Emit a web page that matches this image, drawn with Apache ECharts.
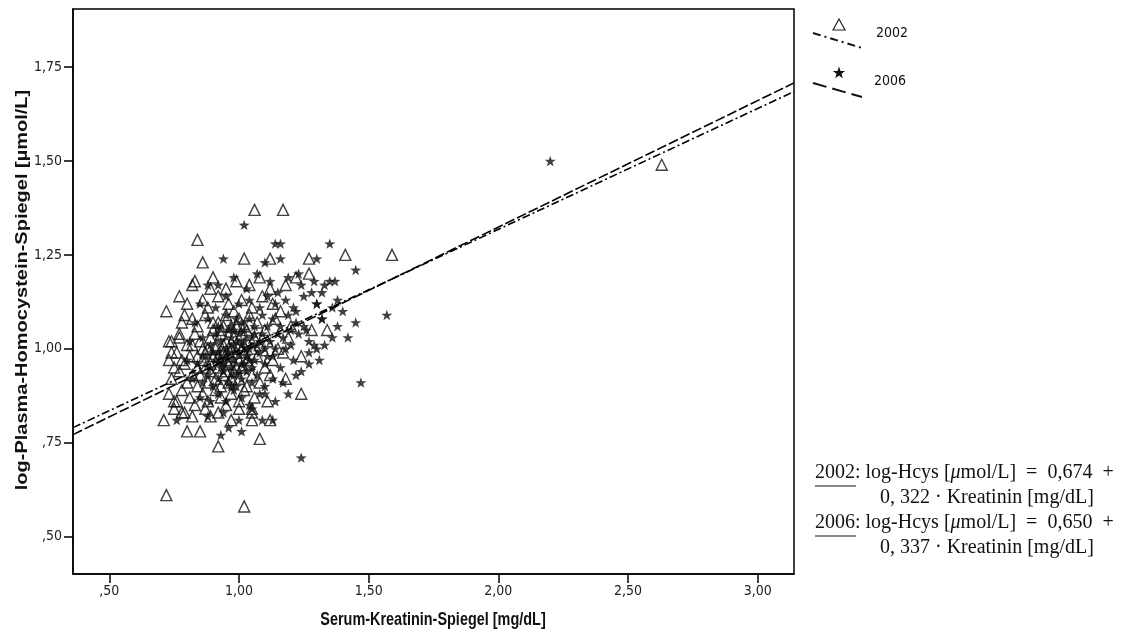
<!DOCTYPE html>
<html>
<head>
<meta charset="utf-8">
<script src="https://cdn.jsdelivr.net/npm/echarts@6/dist/echarts.min.js"></script>
<style>
  html, body { margin: 0; padding: 0; background: #fff; }
  #chart { width: 1138px; height: 639px; }
</style>
</head>
<body>
<div id="chart"></div>
<script>
// Serum creatinine vs log plasma homocysteine, 2002 (triangles) and 2006 (stars)
const years = ['2002', '2006'];
const intercepts = [0.674, 0.650];
const slopes = [0.322, 0.337];
const xTicks = [0.5, 1.0, 1.5, 2.0, 2.5, 3.0];
const yTicks = [0.5, 0.75, 1.0, 1.25, 1.5, 1.75];
const xTitle = 'Serum-Kreatinin-Spiegel [mg/dL]';
const yTitle = 'log-Plasma-Homocystein-Spiegel [µmol/L]';

const pts2002 = [
  [0.72, 0.61], [1.02, 0.58], [2.63, 1.49], [1.06, 1.37], [1.17, 1.37],
  [0.84, 1.29], [0.86, 1.23], [1.02, 1.24], [1.12, 1.24], [1.27, 1.24],
  [1.41, 1.25], [1.59, 1.25], [1.27, 1.20], [0.82, 1.17], [0.77, 1.14],
  [0.72, 1.10], [0.79, 1.09], [0.89, 1.16], [0.71, 0.81], [0.80, 0.78],
  [0.85, 0.78], [0.92, 0.74], [1.08, 0.76], [1.05, 0.84], [1.05, 0.83],
  [1.05, 0.81], [1.12, 0.81], [1.24, 0.88], [1.24, 0.98], [1.28, 1.05],
  [1.34, 1.05], [0.75, 0.84], [0.75, 0.86], [0.79, 0.83], [0.89, 0.82],
  [0.73, 1.02], [0.74, 0.99], [0.75, 0.95], [0.77, 1.04], [0.78, 0.97],
  [0.83, 1.18], [0.90, 1.19], [0.95, 1.16], [0.99, 1.18], [1.04, 1.17],
  [1.08, 1.19], [1.12, 1.16], [1.18, 1.17], [1.22, 1.19],
  [0.80, 1.12], [0.86, 1.13], [0.88, 1.11], [0.92, 1.14], [0.96, 1.12],
  [0.98, 1.10], [1.01, 1.13], [1.05, 1.11], [1.09, 1.14], [1.13, 1.12],
  [1.16, 1.10],
  [0.78, 1.07], [0.82, 1.08], [0.84, 1.06], [0.87, 1.09], [0.90, 1.07],
  [0.93, 1.05], [0.95, 1.09], [0.97, 1.06], [1.00, 1.08], [1.02, 1.06],
  [1.04, 1.09], [1.07, 1.07], [1.10, 1.05], [1.14, 1.08], [1.20, 1.06],
  [0.74, 1.02], [0.77, 1.03], [0.80, 1.01], [0.83, 1.04], [0.85, 1.02],
  [0.88, 1.00], [0.89, 1.03], [0.91, 1.01], [0.93, 1.04], [0.95, 1.02],
  [0.96, 1.00], [0.98, 1.03], [1.00, 1.01], [1.01, 1.04], [1.03, 1.02],
  [1.05, 1.00], [1.06, 1.03], [1.08, 1.01], [1.11, 1.02], [1.15, 1.00],
  [1.19, 1.03],
  [0.73, 0.97], [0.76, 0.99], [0.79, 0.96], [0.81, 0.98], [0.84, 0.95],
  [0.86, 0.97], [0.87, 0.99], [0.89, 0.96], [0.90, 0.98], [0.92, 0.95],
  [0.93, 0.97], [0.94, 0.99], [0.96, 0.96], [0.97, 0.98], [0.99, 0.95],
  [1.00, 0.97], [1.02, 0.99], [1.04, 0.96], [1.07, 0.98], [1.10, 0.95],
  [1.13, 0.97], [1.17, 0.99],
  [0.74, 0.92], [0.77, 0.94], [0.80, 0.91], [0.82, 0.93], [0.84, 0.90],
  [0.85, 0.93], [0.88, 0.91], [0.89, 0.94], [0.91, 0.92], [0.93, 0.90],
  [0.94, 0.93], [0.96, 0.91], [0.98, 0.94], [1.00, 0.92], [1.03, 0.90],
  [1.05, 0.93], [1.08, 0.91], [1.12, 0.93], [1.18, 0.92],
  [0.73, 0.88], [0.76, 0.86], [0.78, 0.89], [0.81, 0.87], [0.83, 0.85],
  [0.86, 0.88], [0.88, 0.86], [0.91, 0.89], [0.93, 0.87], [0.95, 0.85],
  [0.97, 0.88], [1.00, 0.86], [1.02, 0.89], [1.06, 0.87], [1.11, 0.86],
  [0.78, 0.83], [0.82, 0.82], [0.87, 0.84], [0.92, 0.83], [0.97, 0.81],
  [1.00, 0.84],
  [0.91, 1.00], [0.92, 0.98], [0.94, 1.01], [0.95, 0.97], [0.97, 1.00],
  [0.99, 0.99], [1.01, 1.00], [1.03, 0.97], [0.95, 0.94], [0.97, 0.92],
  [1.01, 0.95], [0.90, 1.05], [0.92, 1.07], [0.94, 1.06], [0.99, 1.06],
  [1.03, 1.05], [0.87, 0.95], [0.86, 1.00], [0.84, 0.98], [0.82, 1.01]
];

const pts2006 = [
  [2.20, 1.50], [1.02, 1.33], [0.94, 1.24], [1.10, 1.23], [1.14, 1.28],
  [1.16, 1.28], [1.16, 1.24], [1.30, 1.24], [0.88, 1.17], [1.35, 1.28],
  [1.23, 1.20], [1.35, 1.18], [1.37, 1.18], [1.45, 1.21], [1.38, 1.13],
  [1.57, 1.09], [1.45, 1.07], [1.42, 1.03], [1.36, 1.03], [1.33, 1.01],
  [1.29, 1.01], [1.47, 0.91], [1.24, 0.94], [1.24, 0.71], [0.93, 0.77],
  [0.96, 0.79], [1.01, 0.78], [1.09, 0.81], [1.13, 0.81], [1.10, 0.88],
  [0.76, 0.81], [1.30, 1.12], [1.32, 1.08], [1.25, 1.06], [1.28, 1.15],
  [1.22, 1.10], [1.40, 1.10], [1.33, 1.17], [1.20, 1.05], [1.27, 0.99],
  [1.31, 0.97],
  [0.92, 1.17], [0.98, 1.19], [1.03, 1.16], [1.07, 1.20], [1.12, 1.18],
  [1.15, 1.15], [1.19, 1.19], [1.24, 1.17], [1.29, 1.18], [1.32, 1.15],
  [0.85, 1.12], [0.91, 1.11], [0.95, 1.14], [1.00, 1.12], [1.04, 1.13],
  [1.08, 1.11], [1.11, 1.14], [1.14, 1.12], [1.18, 1.13], [1.21, 1.11],
  [1.25, 1.14], [1.30, 1.12], [1.36, 1.11],
  [0.83, 1.07], [0.88, 1.08], [0.92, 1.06], [0.95, 1.09], [0.97, 1.06],
  [0.99, 1.08], [1.02, 1.05], [1.04, 1.08], [1.06, 1.06], [1.09, 1.09],
  [1.11, 1.06], [1.13, 1.08], [1.16, 1.06], [1.19, 1.09], [1.22, 1.07],
  [1.26, 1.05], [1.32, 1.08], [1.38, 1.06],
  [0.81, 1.02], [0.86, 1.03], [0.89, 1.01], [0.91, 1.04], [0.93, 1.02],
  [0.95, 1.00], [0.97, 1.03], [0.98, 1.01], [1.00, 1.04], [1.02, 1.02],
  [1.04, 1.00], [1.05, 1.03], [1.07, 1.01], [1.09, 1.04], [1.12, 1.02],
  [1.14, 1.00], [1.17, 1.03], [1.20, 1.01], [1.23, 1.04], [1.27, 1.02],
  [1.30, 1.00],
  [0.80, 0.97], [0.84, 0.96], [0.87, 0.98], [0.89, 0.95], [0.91, 0.97],
  [0.92, 0.99], [0.94, 0.96], [0.95, 0.98], [0.97, 0.95], [0.98, 0.97],
  [1.00, 0.99], [1.01, 0.96], [1.03, 0.98], [1.05, 0.95], [1.06, 0.97],
  [1.08, 0.99], [1.10, 0.96], [1.13, 0.98], [1.16, 0.95], [1.21, 0.97],
  [1.27, 0.96],
  [0.82, 0.92], [0.86, 0.91], [0.88, 0.93], [0.90, 0.90], [0.92, 0.92],
  [0.94, 0.94], [0.96, 0.91], [0.98, 0.93], [0.99, 0.90], [1.01, 0.92],
  [1.03, 0.94], [1.05, 0.91], [1.07, 0.93], [1.10, 0.90], [1.13, 0.92],
  [1.17, 0.91], [1.22, 0.93],
  [0.85, 0.87], [0.89, 0.86], [0.92, 0.88], [0.95, 0.86], [0.98, 0.89],
  [1.01, 0.87], [1.04, 0.85], [1.08, 0.88], [1.14, 0.86], [1.19, 0.88],
  [0.88, 0.82], [0.94, 0.83], [1.00, 0.81], [1.05, 0.84],
  [0.93, 0.97], [0.96, 0.99], [0.99, 1.02], [1.01, 1.01], [1.03, 1.00],
  [0.96, 1.05], [0.98, 1.05], [1.01, 1.07], [1.06, 1.04], [1.08, 1.02],
  [0.97, 0.90], [1.00, 0.94], [1.02, 0.96], [1.04, 0.97], [0.93, 0.95],
  [0.90, 0.99], [1.10, 1.00], [1.11, 0.98], [1.15, 1.04], [1.18, 1.00]
];

const xMin = 0.36, xMax = 3.14;
const yMin = 0.40, yMax = 1.905;

const tickFont = "'DejaVu Sans Condensed', 'Liberation Sans', Arial, sans-serif";
const titleFont = "'Liberation Sans', Arial, sans-serif";
const serifFont = "'Liberation Serif', 'DejaVu Serif', serif";
const starPath = 'path://M10,0 L12.35,6.76 L19.51,6.91 L13.8,11.24 L15.88,18.09 L10,14 L4.12,18.09 L6.2,11.24 L0.49,6.91 L7.65,6.76 Z';

const fmt = v => v.toFixed(2).replace('.', ',').replace(/^0/, '');

function fitLine(i) {
  return [xMin, xMax].map(x => [x, intercepts[i] + slopes[i] * x]);
}

// small star outline for the legend
function starPoints(cx, cy, R, r) {
  const pts = [];
  for (let k = 0; k < 10; k++) {
    const a = -Math.PI / 2 + k * Math.PI / 5;
    const rad = k % 2 === 0 ? R : r;
    pts.push([cx + rad * Math.cos(a), cy + rad * Math.sin(a)]);
  }
  return pts;
}

const eqRich = { i: { fontStyle: 'italic', fontFamily: serifFont, fontSize: 20 } };

const chart = echarts.init(document.getElementById('chart'));

const option = {
  animation: false,
  backgroundColor: '#fff',
  grid: {
    left: 73, right: 344, top: 9, bottom: 65,
    show: true, borderColor: '#000', borderWidth: 1.5
  },
  xAxis: {
    type: 'value', min: xMin, max: xMax,
    axisLine: { show: true, lineStyle: { color: '#000', width: 1.5 } },
    axisTick: { show: true, customValues: xTicks, length: 9, lineStyle: { color: '#000', width: 1.5 } },
    axisLabel: { customValues: xTicks, formatter: fmt, color: '#222', fontFamily: tickFont, fontSize: 14, margin: 10 },
    splitLine: { show: false }
  },
  yAxis: {
    type: 'value', min: yMin, max: yMax,
    axisLine: { show: true, lineStyle: { color: '#000', width: 1.5 } },
    axisTick: { show: true, customValues: yTicks, length: 9, lineStyle: { color: '#000', width: 1.5 } },
    axisLabel: { customValues: yTicks, formatter: fmt, color: '#222', fontFamily: tickFont, fontSize: 14, margin: 11 },
    splitLine: { show: false }
  },
  series: [
    {
      name: years[0], type: 'scatter', data: pts2002,
      symbol: 'triangle', symbolSize: 11,
      itemStyle: { color: 'rgba(255,255,255,0)', borderColor: '#111', borderWidth: 1.4 }
    },
    {
      name: years[1], type: 'scatter', data: pts2006,
      symbol: starPath, symbolSize: 11, symbolKeepAspect: true,
      itemStyle: { color: '#111' }
    },
    {
      name: years[0] + ' fit', type: 'line', data: fitLine(0), symbol: 'none',
      lineStyle: { color: '#000', width: 1.6, type: [8, 3, 2, 3] }, z: 3
    },
    {
      name: years[1] + ' fit', type: 'line', data: fitLine(1), symbol: 'none',
      lineStyle: { color: '#000', width: 1.6, type: [10, 3] }, z: 3
    }
  ],
  graphic: [
    // axis titles (the source picture is squeezed sideways)
    { type: 'text', x: 433, y: 620, scaleX: 0.76,
      style: { text: xTitle, font: 'bold 19px ' + titleFont, fill: '#111', align: 'center', verticalAlign: 'middle' } },
    { type: 'text', x: 22, y: 290, rotation: Math.PI / 2, scaleY: 0.85,
      style: { text: yTitle, font: 'bold 20px ' + titleFont, fill: '#111', align: 'center', verticalAlign: 'middle' } },
    // legend
    { type: 'polygon', shape: { points: [[839, 19], [845, 30], [833, 30]] },
      style: { fill: 'none', stroke: '#222', lineWidth: 1.2 } },
    { type: 'line', shape: { x1: 813, y1: 33, x2: 862, y2: 48 },
      style: { stroke: '#111', lineWidth: 2, lineDash: [8, 4, 2, 4] } },
    { type: 'text', left: 876, top: 26,
      style: { text: years[0], font: '14px ' + tickFont, fill: '#111' } },
    { type: 'polygon', shape: { points: starPoints(839, 73, 6.5, 2.6) },
      style: { fill: '#111' } },
    { type: 'line', shape: { x1: 813, y1: 83, x2: 862, y2: 97 },
      style: { stroke: '#111', lineWidth: 2, lineDash: [14, 6] } },
    { type: 'text', left: 874, top: 74,
      style: { text: years[1], font: '14px ' + tickFont, fill: '#111' } },
    // regression equations
    { type: 'text', left: 815, top: 463,
      style: { text: '2002: log-Hcys [{i|μ}mol/L]  =  0,674  +', font: '20px ' + serifFont, fill: '#111', rich: eqRich } },
    { type: 'line', shape: { x1: 815, y1: 486, x2: 856, y2: 486 }, style: { stroke: '#111', lineWidth: 1 } },
    { type: 'text', left: 880, top: 488,
      style: { text: '0, 322 · Kreatinin [mg/dL]', font: '20px ' + serifFont, fill: '#111' } },
    { type: 'text', left: 815, top: 513,
      style: { text: '2006: log-Hcys [{i|μ}mol/L]  =  0,650  +', font: '20px ' + serifFont, fill: '#111', rich: eqRich } },
    { type: 'line', shape: { x1: 815, y1: 536, x2: 856, y2: 536 }, style: { stroke: '#111', lineWidth: 1 } },
    { type: 'text', left: 880, top: 538,
      style: { text: '0, 337 · Kreatinin [mg/dL]', font: '20px ' + serifFont, fill: '#111' } }
  ]
};

chart.setOption(option);
</script>
</body>
</html>
